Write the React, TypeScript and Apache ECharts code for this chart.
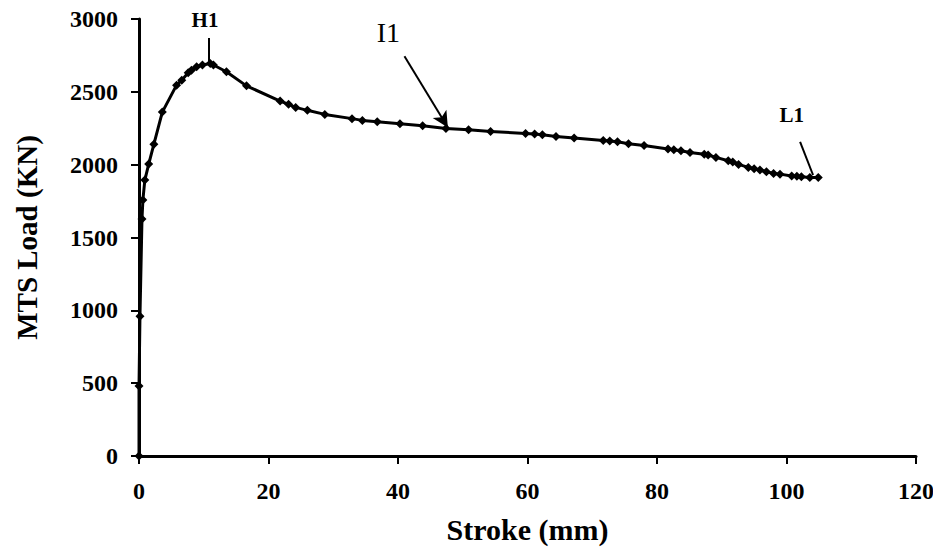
import React, { useEffect, useRef } from "react";
import * as echarts from "echarts";

const strokeMm = [0, 0, 0.15, 0.46, 0.6, 0.9, 1.5, 2.3, 3.6, 5.8, 6.6, 7.6, 8.1, 8.9, 9.8, 11.0, 11.5, 13.5, 16.6, 21.8, 23.1, 24.2, 26.0, 28.7, 32.9, 34.5, 36.8, 40.3, 43.8, 47.4, 50.9, 54.3, 59.7, 61.1, 62.3, 64.4, 67.2, 71.7, 72.7, 73.9, 75.6, 78.0, 81.7, 82.6, 83.7, 85.1, 87.3, 87.9, 89.1, 91.0, 91.7, 92.6, 94.1, 95.0, 95.9, 96.9, 98.0, 99.0, 100.8, 101.6, 102.3, 103.6, 104.9];
const loadKN = [0, 480, 960, 1627, 1757, 1894, 2004, 2141, 2361, 2546, 2580, 2631, 2649, 2672, 2684, 2695, 2684, 2638, 2541, 2437, 2414, 2393, 2373, 2345, 2316, 2304, 2294, 2281, 2267, 2249, 2240, 2228, 2214, 2210, 2205, 2194, 2183, 2166, 2162, 2157, 2144, 2132, 2107, 2102, 2096, 2084, 2071, 2066, 2050, 2027, 2018, 2002, 1981, 1972, 1963, 1951, 1940, 1935, 1922, 1920, 1917, 1912, 1912];

const xTicks = [0, 20, 40, 60, 80, 100, 120];
const yTicks = [0, 500, 1000, 1500, 2000, 2500, 3000];

// annotation labels and their anchor positions (data units)
const labelNames = ["H1", "I1", "L1"];
const labelX = [10.2, 38.5, 100.8];
const labelY = [2990, 2910, 2340];

// leader lines: [x1, y1, x2, y2]
const leaderH1 = [10.8, 2700, 10.8, 2870];
const leaderL1 = [102.1, 2157, 104.1, 1929];
const arrowI1 = [41.0, 2745, 47.7, 2255];

const FONT = "Liberation Serif";

export default function App() {
  const ref = useRef<HTMLDivElement>(null);
  useEffect(() => {
    if (!ref.current) return;
    const chart = echarts.init(ref.current, undefined, { renderer: "svg" });
    const data = strokeMm.map((x, i) => [x, loadKN[i]]);
    const labelData = labelNames.map((n, i) => ({
      name: n,
      coord: [labelX[i], labelY[i]],
      symbol: "rect",
      symbolSize: 1,
      itemStyle: { color: "rgba(0,0,0,0)" },
      label: {
        show: true,
        position: "inside",
        formatter: n,
        color: "#000",
        fontFamily: FONT,
        fontWeight: n === "I1" ? "normal" : "bold",
        fontSize: n === "I1" ? 28 : 21,
      },
    }));
    chart.setOption({
      animation: false,
      backgroundColor: "#fff",
      textStyle: { fontFamily: FONT },
      grid: { left: 139, right: 25, top: 19, bottom: 94, containLabel: false },
      xAxis: {
        type: "value",
        min: xTicks[0],
        max: xTicks[xTicks.length - 1],
        interval: 20,
        name: "Stroke (mm)",
        nameLocation: "middle",
        nameGap: 58,
        nameTextStyle: { fontFamily: FONT, fontWeight: "bold", fontSize: 30, color: "#000" },
        axisLine: { show: true, lineStyle: { color: "#000", width: 3 } },
        axisTick: { show: true, length: 8, lineStyle: { color: "#000", width: 2 } },
        axisLabel: { fontFamily: FONT, fontWeight: "bold", fontSize: 24, color: "#000", margin: 23 },
        splitLine: { show: false },
      },
      yAxis: {
        type: "value",
        min: yTicks[0],
        max: yTicks[yTicks.length - 1],
        interval: 500,
        name: "MTS Load (KN)",
        nameLocation: "middle",
        nameGap: 98,
        nameTextStyle: { fontFamily: FONT, fontWeight: "bold", fontSize: 29, color: "#000" },
        axisLine: { show: true, lineStyle: { color: "#000", width: 3 } },
        axisTick: { show: true, length: 8, lineStyle: { color: "#000", width: 2 } },
        axisLabel: {
          fontFamily: FONT,
          fontWeight: "bold",
          fontSize: 24,
          color: "#000",
          margin: 21,
          formatter: (v: number) => String(v),
        },
        splitLine: { show: false },
      },
      series: [
        {
          type: "line",
          data,
          symbol: "diamond",
          symbolSize: 9,
          lineStyle: { color: "#000", width: 3 },
          itemStyle: { color: "#000" },
          markPoint: { silent: true, data: labelData },
          markLine: {
            silent: true,
            symbol: ["none", "none"],
            label: { show: false },
            lineStyle: { color: "#000", width: 2, type: "solid" },
            data: [
              [
                { coord: [leaderH1[0], leaderH1[1]] },
                { coord: [leaderH1[2], leaderH1[3]] },
              ],
              [
                { coord: [leaderL1[0], leaderL1[1]] },
                { coord: [leaderL1[2], leaderL1[3]] },
              ],
              [
                { coord: [arrowI1[0], arrowI1[1]], symbol: "none" },
                { coord: [arrowI1[2], arrowI1[3]], symbol: "arrow", symbolSize: [12, 16] },
              ],
            ],
          },
        },
      ],
    });
    return () => chart.dispose();
  }, []);
  return <div ref={ref} style={{ width: 941, height: 550, marginLeft: -8, marginTop: -8 }} />;
}
